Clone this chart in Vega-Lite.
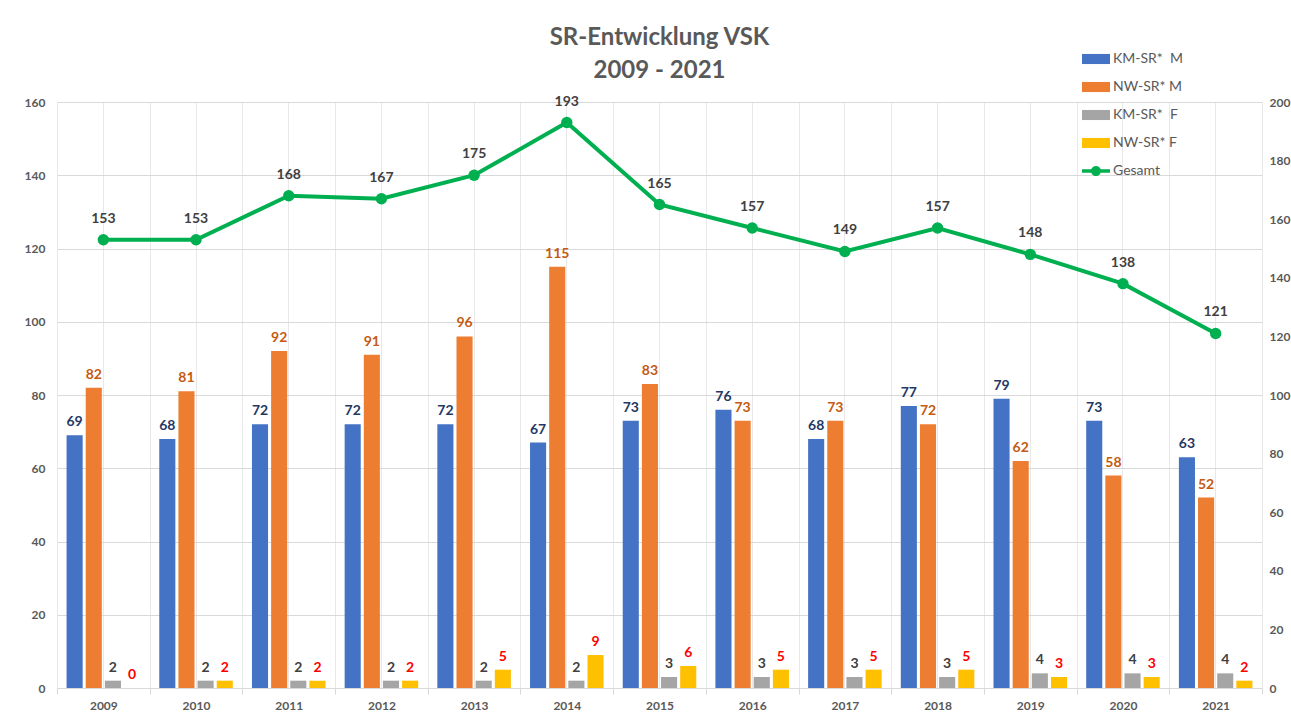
{
  "$schema": "https://vega.github.io/schema/vega-lite/v6.json",
  "width": 1205,
  "height": 586,
  "autosize": {"type": "none"},
  "padding": {"left": 57, "top": 102, "right": 29, "bottom": 37},
  "background": "white",
  "title": {
    "text": ["SR-Entwicklung VSK", "2009 - 2021"],
    "fontSize": 24,
    "font": "Lato",
    "fontWeight": "bold",
    "color": "#595959",
    "lineHeight": 33,
    "offset": -38,
    "frame": "group",
    "anchor": "middle"
  },
  "config": {
    "view": {"stroke": null},
    "font": "Lato",
    "axis": {"labelFont": "Lato", "labelFontWeight": "bold", "labelFontSize": 12, "labelColor": "#595959"}
  },
  "datasets": {
    "bars": [
      {"year": "2009", "series": "KM-SR*\u00a0 M", "value": 69},
      {"year": "2009", "series": "NW-SR* M", "value": 82},
      {"year": "2009", "series": "KM-SR*\u00a0 F", "value": 2},
      {"year": "2009", "series": "NW-SR* F", "value": 0},
      {"year": "2010", "series": "KM-SR*\u00a0 M", "value": 68},
      {"year": "2010", "series": "NW-SR* M", "value": 81},
      {"year": "2010", "series": "KM-SR*\u00a0 F", "value": 2},
      {"year": "2010", "series": "NW-SR* F", "value": 2},
      {"year": "2011", "series": "KM-SR*\u00a0 M", "value": 72},
      {"year": "2011", "series": "NW-SR* M", "value": 92},
      {"year": "2011", "series": "KM-SR*\u00a0 F", "value": 2},
      {"year": "2011", "series": "NW-SR* F", "value": 2},
      {"year": "2012", "series": "KM-SR*\u00a0 M", "value": 72},
      {"year": "2012", "series": "NW-SR* M", "value": 91},
      {"year": "2012", "series": "KM-SR*\u00a0 F", "value": 2},
      {"year": "2012", "series": "NW-SR* F", "value": 2},
      {"year": "2013", "series": "KM-SR*\u00a0 M", "value": 72},
      {"year": "2013", "series": "NW-SR* M", "value": 96},
      {"year": "2013", "series": "KM-SR*\u00a0 F", "value": 2},
      {"year": "2013", "series": "NW-SR* F", "value": 5},
      {"year": "2014", "series": "KM-SR*\u00a0 M", "value": 67},
      {"year": "2014", "series": "NW-SR* M", "value": 115},
      {"year": "2014", "series": "KM-SR*\u00a0 F", "value": 2},
      {"year": "2014", "series": "NW-SR* F", "value": 9},
      {"year": "2015", "series": "KM-SR*\u00a0 M", "value": 73},
      {"year": "2015", "series": "NW-SR* M", "value": 83},
      {"year": "2015", "series": "KM-SR*\u00a0 F", "value": 3},
      {"year": "2015", "series": "NW-SR* F", "value": 6},
      {"year": "2016", "series": "KM-SR*\u00a0 M", "value": 76},
      {"year": "2016", "series": "NW-SR* M", "value": 73},
      {"year": "2016", "series": "KM-SR*\u00a0 F", "value": 3},
      {"year": "2016", "series": "NW-SR* F", "value": 5},
      {"year": "2017", "series": "KM-SR*\u00a0 M", "value": 68},
      {"year": "2017", "series": "NW-SR* M", "value": 73},
      {"year": "2017", "series": "KM-SR*\u00a0 F", "value": 3},
      {"year": "2017", "series": "NW-SR* F", "value": 5},
      {"year": "2018", "series": "KM-SR*\u00a0 M", "value": 77},
      {"year": "2018", "series": "NW-SR* M", "value": 72},
      {"year": "2018", "series": "KM-SR*\u00a0 F", "value": 3},
      {"year": "2018", "series": "NW-SR* F", "value": 5},
      {"year": "2019", "series": "KM-SR*\u00a0 M", "value": 79},
      {"year": "2019", "series": "NW-SR* M", "value": 62},
      {"year": "2019", "series": "KM-SR*\u00a0 F", "value": 4},
      {"year": "2019", "series": "NW-SR* F", "value": 3},
      {"year": "2020", "series": "KM-SR*\u00a0 M", "value": 73},
      {"year": "2020", "series": "NW-SR* M", "value": 58},
      {"year": "2020", "series": "KM-SR*\u00a0 F", "value": 4},
      {"year": "2020", "series": "NW-SR* F", "value": 3},
      {"year": "2021", "series": "KM-SR*\u00a0 M", "value": 63},
      {"year": "2021", "series": "NW-SR* M", "value": 52},
      {"year": "2021", "series": "KM-SR*\u00a0 F", "value": 4},
      {"year": "2021", "series": "NW-SR* F", "value": 2}
    ],
    "totals": [
      {"year": "2009", "total": 153},
      {"year": "2010", "total": 153},
      {"year": "2011", "total": 168},
      {"year": "2012", "total": 167},
      {"year": "2013", "total": 175},
      {"year": "2014", "total": 193},
      {"year": "2015", "total": 165},
      {"year": "2016", "total": 157},
      {"year": "2017", "total": 149},
      {"year": "2018", "total": 157},
      {"year": "2019", "total": 148},
      {"year": "2020", "total": 138},
      {"year": "2021", "total": 121}
    ]
  },
  "layer": [
    {
      "data": {"name": "bars"},
      "encoding": {
        "x": {
          "field": "year",
          "type": "ordinal",
          "scale": {"paddingInner": 0, "paddingOuter": 0},
          "axis": {
            "title": null,
            "tickBand": "extent",
            "grid": true,
            "gridColor": "#e8e8e8",
            "domainColor": "#d9d9d9",
            "tickColor": "#d9d9d9",
            "tickSize": 6,
            "labelPadding": 6,
            "labelAngle": 0
          }
        },
        "xOffset": {
          "field": "series",
          "scale": {"domain": ["KM-SR*\u00a0 M", "NW-SR* M", "KM-SR*\u00a0 F", "NW-SR* F"], "paddingInner": 0.16, "paddingOuter": 0.5}
        },
        "y": {
          "field": "value",
          "type": "quantitative",
          "scale": {"domain": [0, 160]},
          "axis": {
            "title": null,
            "values": [0, 20, 40, 60, 80, 100, 120, 140, 160],
            "grid": true,
            "gridColor": "#d9d9d9",
            "domain": false,
            "ticks": false,
            "labelPadding": 12
          }
        }
      },
      "layer": [
        {
          "mark": {"type": "bar"},
          "encoding": {
            "color": {
              "field": "series",
              "type": "nominal",
              "scale": {
                "domain": ["KM-SR*\u00a0 M", "NW-SR* M", "KM-SR*\u00a0 F", "NW-SR* F", "Gesamt"],
                "range": ["#4472C4", "#ED7D31", "#A5A5A5", "#FFC000", "#00B050"]
              },
              "legend": {
                "orient": "none",
                "legendX": 1025,
                "legendY": -57,
                "title": null,
                "labelFont": "Lato",
                "labelFontSize": 14,
                "labelFontWeight": "normal",
                "labelColor": "#595959",
                "symbolSize": 784,
                "symbolType": "M-1,-0.36H1V0.36H-1Z",
                "symbolStrokeWidth": 0,
                "rowPadding": 7,
                "labelOffset": 3,
                "encode": {
                  "symbols": {
                    "update": {
                      "shape": [
                        {"test": "datum.value === 'Gesamt'", "value": "M-1,-0.13H1V0.13H-1Z M-0.36,0A0.36,0.36 0 1,1 0.36,0A0.36,0.36 0 1,1 -0.36,0Z"},
                        {"value": "M-1,-0.36H1V0.36H-1Z"}
                      ],
                      "fill": {"scale": "color", "field": "value"},
                      "strokeWidth": {"value": 0}
                    }
                  }
                }
              }
            }
          }
        },
        {
          "mark": {"type": "text", "dy": -6, "baseline": "bottom", "fontWeight": "bold", "fontSize": 14, "font": "Lato"},
          "encoding": {
            "text": {"field": "value", "type": "quantitative"},
            "fill": {
              "field": "series",
              "type": "nominal",
              "scale": {"domain": ["KM-SR*\u00a0 M", "NW-SR* M", "KM-SR*\u00a0 F", "NW-SR* F"], "range": ["#1F3864", "#C55A11", "#404040", "#FF0000"]},
              "legend": null
            }
          }
        }
      ]
    },
    {
      "data": {"name": "totals"},
      "encoding": {
        "x": {
          "field": "year",
          "type": "ordinal",
          "axis": {"orient": "top", "grid": true, "gridColor": "#e8e8e8", "labels": false, "ticks": false, "domain": false, "title": null}
        },
        "y": {
          "field": "total",
          "type": "quantitative",
          "scale": {"domain": [0, 200]},
          "axis": {
            "orient": "right",
            "title": null,
            "values": [0, 20, 40, 60, 80, 100, 120, 140, 160, 180, 200],
            "grid": false,
            "domain": false,
            "ticks": false,
            "labelPadding": 7
          }
        }
      },
      "layer": [
        {
          "mark": {"type": "line", "strokeWidth": 4, "point": {"size": 130, "filled": true, "opacity": 1}},
          "encoding": {"color": {"datum": "Gesamt", "type": "nominal"}}
        },
        {
          "mark": {"type": "text", "dy": -14, "baseline": "bottom", "fontWeight": "bold", "fontSize": 14, "font": "Lato", "color": "#404040"},
          "encoding": {"text": {"field": "total", "type": "quantitative"}}
        }
      ]
    }
  ],
  "resolve": {"scale": {"y": "independent"}, "axis": {"x": "independent"}}
}
